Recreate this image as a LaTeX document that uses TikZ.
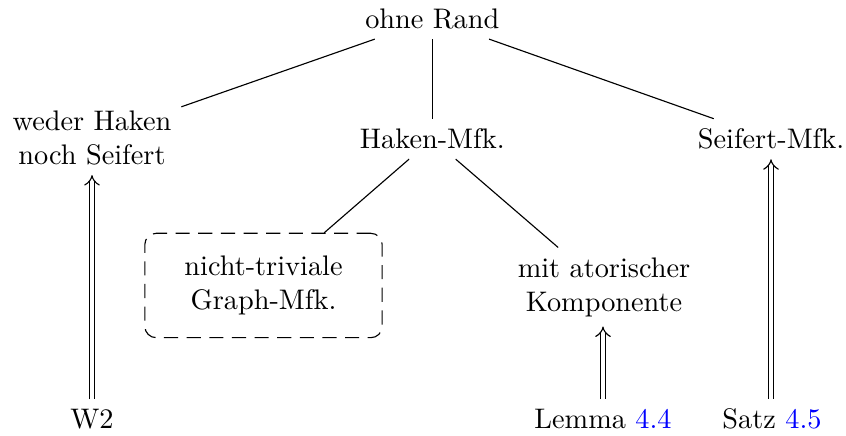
\documentclass[tikz,border=0pt]{standalone}
\usetikzlibrary{arrows.meta}
\begin{document}
\begin{tikzpicture}[x=0.3534pt,y=-0.3534pt,
  lbl/.style={align=center},
  dbox/.style={draw,dashed,dash pattern=on 5pt off 3pt,rounded corners=4pt,align=center,inner xsep=14pt,inner ysep=8pt},
  edge/.style={line width=0.4pt},
  imp/.style={double,double equal sign distance,-{Implies}}]
\useasboundingbox (0,0) rectangle (846,436);
\node[lbl] (rand) at (432.3,19) {ohne Rand};
\node[lbl] (weder) at (92,138) {weder Haken\\noch Seifert};
\node[lbl] (haken) at (432.3,139) {Haken-Mfk.};
\node[lbl] (seifert) at (771,139) {Seifert-Mfk.};
\node[dbox] (graph) at (263.5,285.5) {nicht-triviale\\Graph-Mfk.};
\node[lbl] (mit) at (604,287) {mit atorischer\\Komponente};
\node[lbl] (w2) at (92,419) {W2};
\node[lbl] (lemma) at (603,419) {Lemma \textcolor{blue}{4.4}};
\node[lbl] (satz) at (772,419) {Satz \textcolor{blue}{4.5}};
\draw[edge] (rand) -- (weder);
\draw[edge] (rand) -- (haken);
\draw[edge] (rand) -- (seifert);
\draw[edge] (haken) -- (graph);
\draw[edge] (haken) -- (mit);
\draw[imp] (lemma.north) -- (lemma.north |- mit.south);
\draw[imp] (w2.north -| weder) -- (weder);
\draw[imp] (satz.north -| seifert) -- (seifert);
\end{tikzpicture}
\end{document}
